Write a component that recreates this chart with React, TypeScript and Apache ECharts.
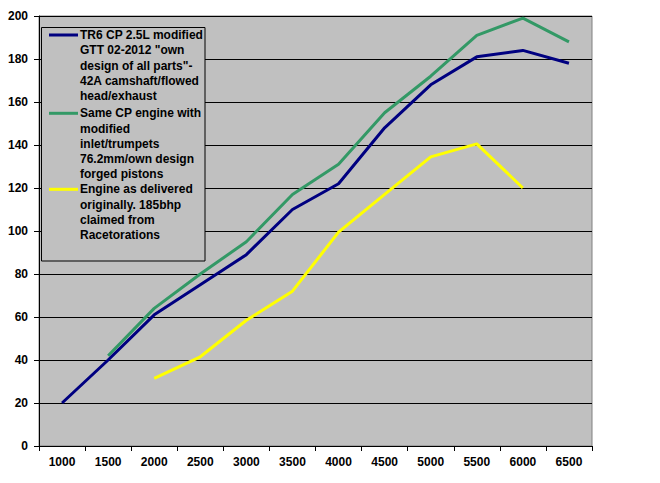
import React, { useEffect, useRef } from "react";
import * as echarts from "echarts";

const categories = ["1000", "1500", "2000", "2500", "3000", "3500", "4000", "4500", "5000", "5500", "6000", "6500"];
const tr6Modified = [20, 40, 61, 75, 89, 110, 122, 148, 168, 181, 184, 178];
const sameCpModified = [null, 42, 64, 80, 95, 117, 131, 155, 172, 191, 199, 188];
const asDelivered = [null, null, 31.5, 41.5, 58.5, 72, 99.5, 117, 134.5, 140.5, 120, null];

const seriesNames = [
  'TR6 CP 2.5L modified\nGTT 02-2012 "own\ndesign of all parts"-\n42A camshaft/flowed\nhead/exhaust',
  "Same CP engine with\nmodified\ninlet/trumpets\n76.2mm/own design\nforged pistons",
  "Engine as delivered\noriginally. 185bhp\nclaimed from\nRacetorations",
];
const seriesColors = ["#000080", "#339966", "#FFFF00"];
const legendFirstLineY = [35, 113.3, 189.3];

const FONT = "'Liberation Sans', Arial, sans-serif";

export default function App() {
  const ref = useRef<HTMLDivElement>(null);
  useEffect(() => {
    if (!ref.current) return;
    const chart = echarts.init(ref.current, undefined, { renderer: "svg" });
    const data = [tr6Modified, sameCpModified, asDelivered];
    const legendGraphics: any[] = [
      {
        type: "rect",
        shape: { x: 41.5, y: 27.5, width: 163.5, height: 233.5 },
        style: { fill: "#C0C0C0", stroke: "#000000", lineWidth: 1 },
        z: 100,
      },
    ];
    seriesNames.forEach((name, i) => {
      const y = legendFirstLineY[i];
      legendGraphics.push({
        type: "line",
        shape: { x1: 49, y1: y, x2: 78, y2: y },
        style: { stroke: seriesColors[i], lineWidth: 3 },
        z: 101,
      });
      legendGraphics.push({
        type: "text",
        x: 80,
        y: y - 7.5,
        style: {
          text: name,
          fill: "#000000",
          font: `bold 12px ${FONT}`,
          lineHeight: 15.2,
          verticalAlign: "top",
          align: "left",
        },
        z: 101,
      });
    });
    chart.setOption({
      animation: false,
      backgroundColor: "#FFFFFF",
      grid: {
        left: 39,
        top: 16,
        right: 68,
        bottom: 37,
        show: true,
        backgroundColor: "#C0C0C0",
        borderColor: "#808080",
        borderWidth: 1,
      },
      xAxis: {
        type: "category",
        data: categories,
        boundaryGap: true,
        axisLine: { lineStyle: { color: "#000000", width: 1 } },
        axisTick: { show: true, length: 5, lineStyle: { color: "#000000" } },
        axisLabel: {
          color: "#000000",
          fontFamily: FONT,
          fontWeight: "bold",
          fontSize: 12,
          margin: 10,
          interval: 0,
        },
        splitLine: { show: false },
      },
      yAxis: {
        type: "value",
        min: 0,
        max: 200,
        interval: 20,
        axisLine: { show: true, lineStyle: { color: "#000000", width: 1 } },
        axisTick: { show: true, length: 5, lineStyle: { color: "#000000" } },
        axisLabel: {
          color: "#000000",
          fontFamily: FONT,
          fontWeight: "bold",
          fontSize: 12,
          margin: 11,
        },
        splitLine: { show: true, lineStyle: { color: "#000000", width: 1 } },
      },
      series: data.map((d, i) => ({
        name: seriesNames[i],
        type: "line",
        data: d,
        showSymbol: false,
        symbol: "none",
        connectNulls: false,
        lineStyle: { color: seriesColors[i], width: 3 },
        itemStyle: { color: seriesColors[i] },
        z: 3 - i,
      })),
      graphic: legendGraphics,
    });
    return () => chart.dispose();
  }, []);
  return (
    <div
      ref={ref}
      style={{ position: "fixed", left: 0, top: 0, width: 660, height: 483 }}
    />
  );
}
